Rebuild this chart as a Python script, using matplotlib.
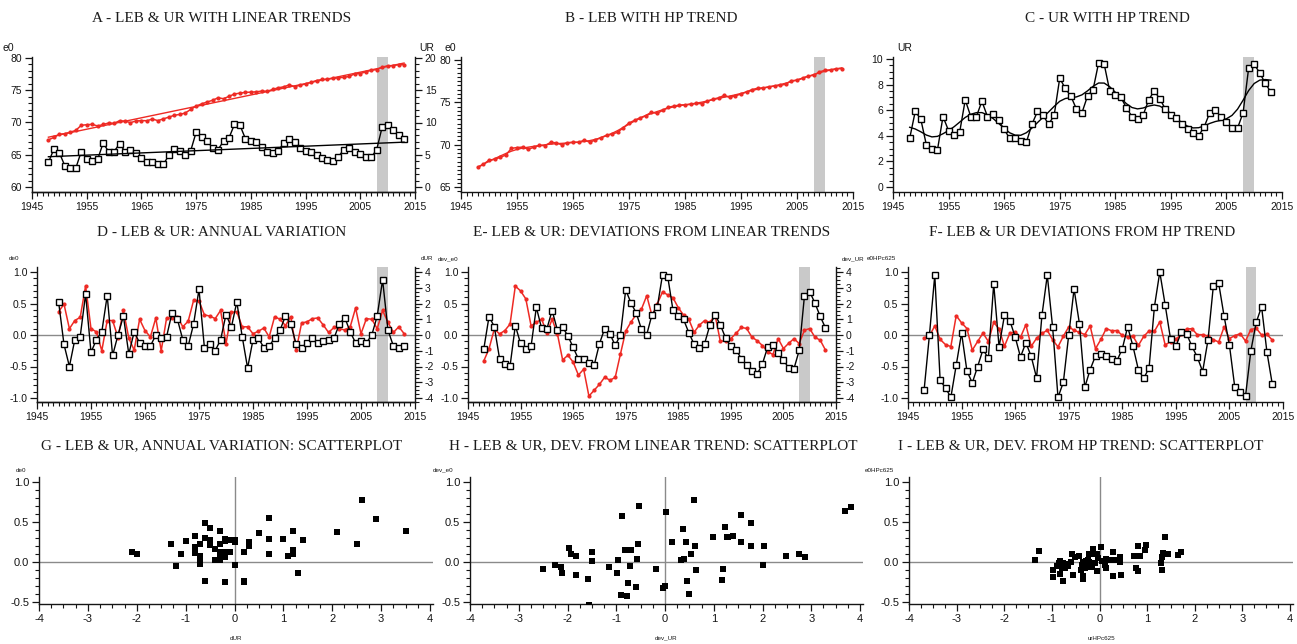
import numpy as np
import matplotlib
matplotlib.use("Agg")
import matplotlib.pyplot as plt
from matplotlib.ticker import FixedLocator, MultipleLocator, FormatStrFormatter

plt.rcParams["axes.unicode_minus"] = False
plt.rcParams["font.family"] = ["Liberation Sans", "DejaVu Sans"]

# ---------------- data ----------------
years = list(range(1948, 2014))
leb = [67.31, 67.68, 68.17, 68.27, 68.50, 68.78, 69.56, 69.66, 69.71, 69.46,
       69.69, 69.92, 69.88, 70.27, 70.22, 69.98, 70.23, 70.30, 70.27, 70.54,
       70.29, 70.56, 70.83, 71.12, 71.25, 71.47, 72.02, 72.56, 72.88, 73.18,
       73.44, 73.83, 73.69, 74.05, 74.42, 74.55, 74.68, 74.70, 74.76, 74.87,
       74.84, 75.13, 75.38, 75.53, 75.82, 75.58, 75.77, 75.98, 76.24, 76.51,
       76.67, 76.71, 76.83, 76.93, 77.01, 77.14, 77.57, 77.59, 77.85, 78.10,
       78.20, 78.59, 78.79, 78.83, 78.96, 78.98]
ur = [3.8, 5.9, 5.3, 3.3, 3.0, 2.9, 5.5, 4.4, 4.1, 4.3,
      6.8, 5.5, 5.5, 6.7, 5.5, 5.7, 5.2, 4.5, 3.8, 3.8,
      3.6, 3.5, 4.9, 5.9, 5.6, 4.9, 5.6, 8.5, 7.7, 7.1,
      6.1, 5.8, 7.1, 7.6, 9.7, 9.6, 7.5, 7.2, 7.0, 6.2,
      5.5, 5.3, 5.6, 6.8, 7.5, 6.9, 6.1, 5.6, 5.4, 4.9,
      4.5, 4.2, 4.0, 4.7, 5.8, 6.0, 5.5, 5.1, 4.6, 4.6,
      5.8, 9.3, 9.6, 8.9, 8.1, 7.4]
# black series of panel F
ur_hp_dev_panel_f = [-0.88, 0.00, 0.95, -0.72, -0.84, -0.99, -0.48, 0.03, -0.57, -0.76,
                     -0.50, -0.23, -0.37, 0.81, -0.19, 0.31, 0.23, -0.03, -0.35, -0.12,
                     -0.34, -0.68, 0.31, 0.95, 0.12, -0.99, -0.75, 0.00, 0.73, 0.18,
                     -0.83, -0.55, -0.33, -0.30, -0.34, -0.38, -0.41, -0.22, 0.13, -0.18,
                     -0.55, -0.69, -0.52, 0.45, 1.00, 0.48, -0.06, -0.18, 0.04, 0.02,
                     -0.18, -0.35, -0.58, -0.08, 0.78, 0.82, 0.30, -0.16, -0.83, -0.90,
                     -0.97, -0.25, 0.20, 0.45, -0.27, -0.78]
recession = (2008, 2010)
hp_lambda_cycle = 6.25
hp_lambda_trend_plot = 10
decade_ticks = list(range(1945, 2016, 10))

titles = ["A - LEB & UR WITH LINEAR TRENDS", "B - LEB WITH HP TREND", "C - UR WITH HP TREND",
          "D - LEB & UR: ANNUAL VARIATION", "E- LEB & UR: DEVIATIONS FROM LINEAR TRENDS",
          "F- LEB & UR DEVIATIONS FROM HP TREND",
          "G - LEB & UR, ANNUAL VARIATION: SCATTERPLOT",
          "H - LEB & UR, DEV. FROM LINEAR TREND: SCATTERPLOT",
          "I - LEB & UR, DEV. FROM HP TREND: SCATTERPLOT"]

# ---------------- derived series ----------------
yr = np.array(years, float)
e0 = np.array(leb, float)
u = np.array(ur, float)


def lin_trend(y):
    c = np.polyfit(yr, y, 1)
    return np.polyval(c, yr)


def hp_trend(y, lam):
    n = len(y)
    D = np.zeros((n - 2, n))
    for i in range(n - 2):
        D[i, i:i + 3] = [1.0, -2.0, 1.0]
    return np.linalg.solve(np.eye(n) + lam * D.T @ D, y)


e0_lin = lin_trend(e0)
u_lin = lin_trend(u)
e0_cyc = e0 - hp_trend(e0, hp_lambda_cycle)
u_cyc = u - hp_trend(u, hp_lambda_cycle)
e0_hp_plot = hp_trend(e0, hp_lambda_trend_plot)
u_hp_plot = hp_trend(u, hp_lambda_trend_plot)
de0 = np.diff(e0)
dur = np.diff(u)
dev_e0 = e0 - e0_lin
dev_ur = u - u_lin

# ---------------- layout ----------------
W, H = 1297, 644
fig = plt.figure(figsize=(W / 100, H / 100), dpi=100)
RED = "#ee2a24"
BAND = "#c9c9c9"
ZERO = "#8a8a8a"
TXT = "#151515"


def add_ax(l, r, t, b):
    return fig.add_axes([l / W, 1 - b / H, (r - l) / W, (b - t) / H])


def lims(vt, vb, pt, pb, at, ab):
    s = (vt - vb) / (pb - pt)
    return vb - (ab - pb) * s, vt + (pt - at) * s


def title(x, y, s):
    fig.text(x / W, 1 - y / H, s, ha="center", va="center", fontsize=11,
             family=["Liberation Serif", "DejaVu Serif"], color="#1c1c1c")


def lab(x, y, s, size=7.5, ha="center"):
    fig.text(x / W, 1 - y / H, s, ha=ha, va="center", fontsize=size, color=TXT)


def tick_style(ax):
    ax.tick_params(which="major", direction="out", length=5, width=0.9,
                   labelsize=7.5, colors=TXT, pad=2)
    ax.tick_params(which="minor", direction="out", length=3, width=0.8, colors=TXT)
    for s in ax.spines.values():
        s.set_linewidth(1.0)
        s.set_color(TXT)


def time_axes(l, r, t, b, ylim, major, minor, fmt=None, twin=None):
    ax = add_ax(l, r, t, b)
    ax.set_xlim(1945, 2015)
    ax.set_ylim(*ylim)
    ax.xaxis.set_major_locator(FixedLocator(decade_ticks))
    ax.xaxis.set_minor_locator(MultipleLocator(1))
    ax.yaxis.set_major_locator(MultipleLocator(major))
    ax.yaxis.set_minor_locator(MultipleLocator(minor))
    if fmt:
        ax.yaxis.set_major_formatter(FormatStrFormatter(fmt))
    ax.spines["top"].set_visible(False)
    ax.spines["right"].set_visible(False)
    tick_style(ax)
    ax.axvspan(recession[0], recession[1], color=BAND, lw=0, zorder=0)
    ax2 = None
    if twin:
        ax2 = ax.twinx()
        ax2.set_ylim(*twin[0])
        ax2.yaxis.set_major_locator(MultipleLocator(twin[1]))
        ax2.yaxis.set_minor_locator(MultipleLocator(twin[2]))
        ax2.spines["top"].set_visible(False)
        ax2.spines["left"].set_visible(False)
        tick_style(ax2)
    return ax, ax2


sq = dict(marker="s", markersize=4.2, markerfacecolor="white", markeredgecolor="black",
          markeredgewidth=1.0, color="black", lw=1.0)
rd = dict(marker="o", markersize=2.0, color=RED, lw=1.1)

# ---- Row 1 ----
top1, bot1 = 57, 192
axA, axA2 = time_axes(32, 415, top1, bot1, lims(80, 60, 58, 187, top1, bot1), 5, 1,
                      twin=(lims(20, 0, 58, 187, top1, bot1), 5, 1))
axA.plot(yr, e0, **rd)
axA.plot(yr, e0_lin, color=RED, lw=1.0)
axA2.plot(yr, u, **sq)
axA2.plot(yr, u_lin, color="black", lw=1.0)
title(222, 18, titles[0])
lab(8, 48, "e0")
lab(427, 48, "UR")

axB, _ = time_axes(461, 853, top1, bot1, lims(80, 65, 60, 187, top1, bot1), 5, 0.5)
axB.plot(yr, e0_hp_plot, color=RED, lw=1.0)
axB.plot(yr, e0, **rd)
title(651, 18, titles[1])
lab(450, 48, "e0")

axC, _ = time_axes(893, 1282, top1, bot1, lims(10, 0, 59, 187, top1, bot1), 2, 0.5)
axC.plot(yr, u_hp_plot, color="black", lw=1.0)
axC.plot(yr, u, **sq)
title(1107, 18, titles[2])
lab(905, 48, "UR")

# ---- Row 2 ----
top2, bot2 = 267, 402
yl2 = lims(1, -1, 272, 398, top2, bot2)
yr2 = lims(4, -4, 272, 398, top2, bot2)

axD, axD2 = time_axes(37, 415, top2, bot2, yl2, 0.5, 0.1, fmt="%.1f", twin=(yr2, 1, 0.25))
axD.axhline(0, color=ZERO, lw=1.0, zorder=1)
axD.plot(yr[1:], de0, **rd)
axD2.plot(yr[1:], dur, **sq)
title(222, 233, titles[3])
lab(14, 259, "de0", size=4.5)
lab(427, 259, "dUR", size=4.5)

axE, axE2 = time_axes(468, 836, top2, bot2, yl2, 0.5, 0.1, fmt="%.1f", twin=(yr2, 1, 0.25))
axE.axhline(0, color=ZERO, lw=1.0, zorder=1)
axE.plot(yr, dev_e0, **rd)
axE2.plot(yr, dev_ur, **sq)
title(652, 233, titles[4])
lab(448, 259, "dev_e0", size=4.5)
lab(842, 259, "dev_UR", size=4.5, ha="left")

axF, _ = time_axes(908, 1283, top2, bot2, yl2, 0.5, 0.1, fmt="%.1f")
axF.axhline(0, color=ZERO, lw=1.0, zorder=1)
axF.plot(yr, e0_cyc, **rd)
axF.plot(yr, ur_hp_dev_panel_f, **sq)
title(1082, 233, titles[5])
lab(896, 259, "e0HPc625", size=4.5, ha="right")

# ---- Row 3 ----
top3, bot3 = 477, 604
yl3 = lims(1.0, -0.5, 482, 602, top3, bot3)


def scatter_axes(l, r, xr_px, x, y, ttl, tx, ylab, ylx, xlab):
    ax = add_ax(l, r, top3, bot3)
    s = 8.0 / (xr_px[1] - xr_px[0])
    ax.set_xlim(-4 - (xr_px[0] - l) * s, 4 + (r - xr_px[1]) * s)
    ax.set_ylim(*yl3)
    ax.xaxis.set_major_locator(MultipleLocator(1))
    ax.xaxis.set_minor_locator(MultipleLocator(0.25))
    ax.yaxis.set_major_locator(MultipleLocator(0.5))
    ax.yaxis.set_minor_locator(MultipleLocator(0.1))
    ax.yaxis.set_major_formatter(FormatStrFormatter("%.1f"))
    ax.spines["top"].set_visible(False)
    ax.spines["right"].set_visible(False)
    tick_style(ax)
    ax.tick_params(which="major", labelsize=8)
    ax.axhline(0, color=ZERO, lw=1.0, zorder=1)
    ax.axvline(0, color=ZERO, lw=1.0, zorder=1)
    ax.scatter(x, y, marker="s", s=14, color="black", linewidths=0, zorder=3)
    title(tx, 446, ttl)
    lab(ylx, 470, ylab, size=4.5)
    lab((l + r) / 2, 638, xlab, size=4.5)
    return ax


scatter_axes(39, 433, (39, 430), dur, de0, titles[6], 222, "de0", 21, "dUR")
scatter_axes(470, 863, (470, 860), dev_ur, dev_e0, titles[7], 653, "dev_e0", 443, "dev_UR")
scatter_axes(909, 1293, (909, 1290), u_cyc, e0_cyc, titles[8], 1081, "e0HPc625", 879, "urHPc625")

fig.savefig("out.png", dpi=100)
